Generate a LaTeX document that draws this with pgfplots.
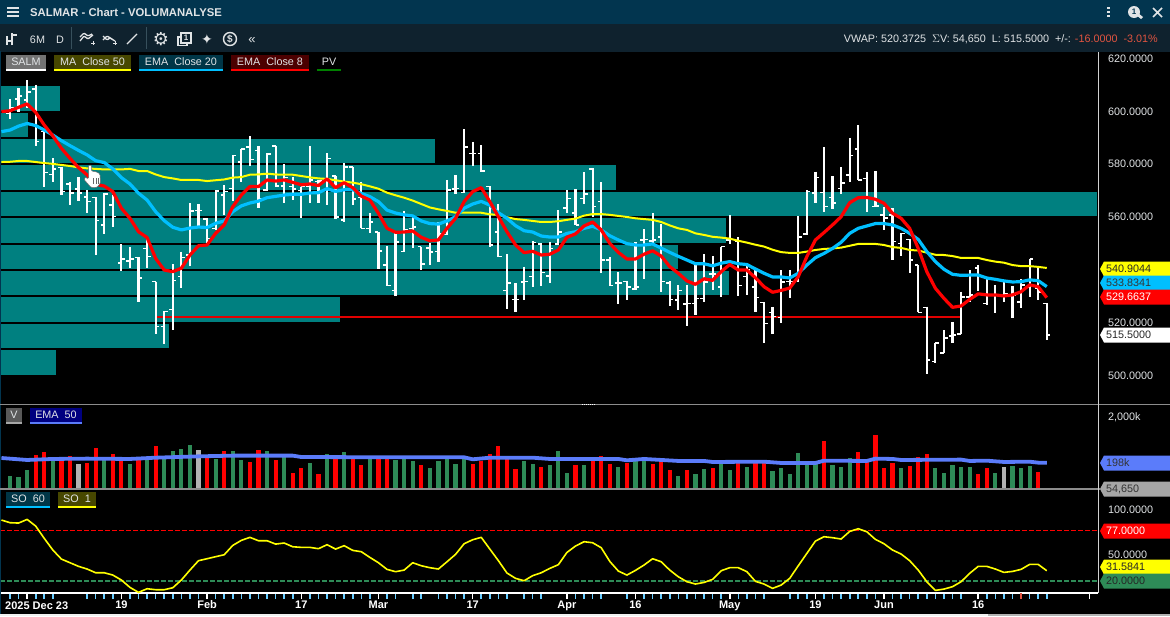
\documentclass[border=0pt]{standalone}
\usepackage{fontspec}
\setmainfont{Liberation Sans}
\newfontfamily\dejavu{DejaVu Sans}
\usepackage{pgfplots}
\usepackage{pgfplotstable}
\pgfplotsset{compat=1.18}
\definecolor{hdr}{RGB}{2,53,79}
\definecolor{tbar}{RGB}{15,34,46}
\definecolor{profile}{RGB}{0,128,128}
\definecolor{ema20}{RGB}{0,191,255}
\definecolor{ema8}{RGB}{255,0,0}
\definecolor{ma50}{RGB}{255,255,0}
\definecolor{volg}{RGB}{46,139,87}
\definecolor{volb}{RGB}{91,124,250}
\definecolor{tickc}{RGB}{102,204,255}
\definecolor{ltxt}{RGB}{225,228,230}
\definecolor{redtxt}{RGB}{226,84,64}
\definecolor{suprt}{RGB}{225,0,0}

\pgfplotstableread{
i h l o c
0 604.9 597.3 599.4 601.7
1 608.9 600.1 604.9 606.1
2 612.0 601.3 604.5 607.6
3 610.2 587.2 608.6 588.7
4 592.5 571.7 592.5 577.0
5 582.4 573.6 576.3 578.4
6 579.2 568.5 579.0 569.8
7 573.3 564.7 572.6 569.2
8 575.3 566.2 570.7 569.2
9 570.4 561.7 567.8 566.0
10 567.6 545.8 567.5 558.8
11 569.2 553.8 557.2 568.9
12 568.5 556.4 564.7 560.4
13 549.9 539.8 542.7 544.4
14 548.8 540.8 543.5 544.3
15 544.9 528.1 544.8 537.2
16 552.6 540.9 548.3 545.2
17 535.7 516.0 535.7 518.7
18 524.6 512.2 518.7 524.4
19 542.3 517.5 525.2 536.1
20 547.1 533.4 537.6 544.8
21 565.4 541.8 545.8 562.5
22 565.0 556.5 562.6 562.6
23 559.7 550.2 559.4 552.1
24 570.4 555.3 555.9 570.1
25 572.3 560.9 568.5 569.8
26 583.5 566.4 571.0 583.4
27 586.0 573.6 581.1 585.9
28 590.8 579.6 586.8 582.0
29 587.1 563.7 585.3 567.2
30 584.3 570.2 570.4 584.0
31 587.2 571.7 587.1 571.9
32 580.2 565.6 571.9 575.2
33 575.5 566.6 571.7 570.7
34 571.7 559.9 570.2 571.7
35 587.1 565.6 571.7 574.2
36 574.2 565.6 573.6 573.8
37 584.3 564.7 574.2 582.4
38 575.8 559.3 575.7 560.3
39 580.5 558.4 559.0 579.2
40 579.2 564.7 579.2 567.0
41 573.6 555.9 567.6 555.9
42 561.6 554.3 555.9 558.4
43 554.6 540.6 554.5 547.3
44 549.2 534.1 542.0 534.2
45 554.0 530.4 532.3 550.7
46 562.5 546.8 547.1 555.5
47 560.3 548.3 555.9 556.5
48 549.0 540.1 549.0 542.4
49 550.5 542.0 548.5 546.9
50 558.4 543.3 547.1 553.7
51 574.2 553.4 553.6 570.4
52 576.1 568.9 570.7 571.0
53 593.5 569.1 569.4 586.8
54 588.6 579.6 584.3 584.3
55 587.4 577.3 584.3 577.6
56 571.9 549.0 571.7 549.6
57 565.1 544.9 554.6 545.2
58 546.2 525.4 532.3 535.3
59 535.3 524.2 529.0 529.0
60 541.4 528.8 535.5 535.8
61 551.0 533.8 537.6 550.6
62 550.2 534.2 550.0 539.2
63 550.7 535.3 537.9 548.3
64 562.8 549.6 550.0 554.6
65 570.4 561.6 563.5 567.2
66 570.8 557.0 561.8 557.2
67 577.2 565.1 567.2 568.9
68 578.6 560.3 578.4 564.1
69 573.3 539.1 566.0 543.9
70 544.9 534.1 543.9 534.2
71 539.2 527.4 535.3 535.3
72 536.1 528.8 535.8 533.8
73 550.6 532.6 533.0 533.8
74 555.5 536.8 551.5 551.7
75 561.6 550.2 551.1 551.5
76 557.5 531.8 552.7 535.7
77 535.8 526.5 535.1 529.0
78 534.3 525.0 528.8 532.3
79 534.4 518.9 527.3 527.5
80 542.6 523.1 527.5 529.4
81 546.1 528.1 529.4 535.5
82 545.4 532.6 538.5 538.5
83 549.0 530.0 533.8 549.0
84 560.8 550.0 551.5 551.7
85 552.5 530.4 550.9 534.2
86 541.9 530.7 537.6 540.1
87 540.1 524.4 533.8 529.7
88 527.9 512.6 527.8 519.9
89 526.2 515.9 524.0 522.5
90 540.1 520.2 522.1 535.5
91 540.1 529.4 535.7 535.7
92 560.6 535.7 536.3 552.7
93 570.4 553.4 553.8 569.8
94 577.4 565.6 569.2 575.2
95 586.7 562.2 569.4 564.1
96 575.7 563.3 567.5 565.6
97 579.1 568.9 571.0 573.0
98 590.1 573.6 576.1 583.4
99 595.0 574.2 585.9 574.2
100 577.2 562.2 574.8 567.6
101 577.6 563.8 564.1 564.4
102 564.0 555.3 561.0 559.7
103 563.5 543.9 561.0 550.9
104 554.0 545.6 550.2 554.0
105 551.7 538.9 551.7 543.9
106 542.0 524.1 542.0 524.1
107 526.3 500.6 526.0 506.1
108 512.4 505.1 505.5 512.4
109 517.4 508.6 508.6 514.3
110 520.3 512.4 515.2 515.5
111 531.9 515.8 515.9 530.0
112 540.1 528.1 530.0 530.7
113 541.9 532.2 540.8 537.6
114 536.7 526.9 527.5 530.7
115 534.5 524.0 530.7 530.7
116 535.5 528.1 530.7 531.3
117 534.1 522.1 530.7 530.7
118 536.7 525.6 528.1 534.5
119 544.4 530.0 533.8 544.4
120 541.1 528.8 533.2 531.9
121 527.5 513.6 527.5 515.5
}\ohlc

\pgfplotstableread{
i ma e20 e8 so
-1 581.0 592.5 600.1 88.7
0 581.1 593.1 600.4 85.7
1 581.4 594.6 601.7 85.3
2 581.4 595.6 603.0 89.4
3 581.0 594.8 599.8 81.9
4 580.6 593.1 595.0 68.0
5 580.3 591.2 590.9 54.9
6 579.9 589.1 586.2 44.7
7 579.5 587.2 582.4 40.6
8 579.0 585.4 578.9 36.5
9 578.6 583.7 576.1 33.5
10 578.4 581.5 572.6 29.3
11 578.2 580.8 571.9 29.3
12 578.2 578.4 569.8 26.7
13 578.2 575.1 563.5 21.1
14 578.4 572.7 559.7 12.8
15 577.6 569.2 554.6 7.2
16 577.6 566.6 552.4 11.3
17 576.3 562.2 544.5 10.2
18 575.3 558.8 540.1 10.2
19 574.8 556.3 539.5 12.4
20 574.2 555.3 540.8 21.1
21 574.2 556.0 545.8 32.3
22 574.2 556.4 549.3 42.9
23 573.8 556.2 549.6 45.1
24 574.1 557.8 554.0 47.4
25 574.4 558.7 557.2 49.6
26 575.1 562.2 564.1 60.1
27 575.3 564.4 568.5 65.8
28 576.2 565.5 571.7 69.2
29 576.3 566.2 571.7 65.4
30 576.6 567.5 574.2 65.4
31 576.3 568.0 573.8 61.6
32 576.2 568.5 574.2 62.8
33 576.2 568.8 573.3 58.6
34 575.7 568.8 572.4 57.9
35 575.2 569.3 572.7 57.9
36 574.8 569.4 572.1 56.4
37 574.6 570.9 574.6 60.9
38 574.1 569.9 571.3 56.0
39 573.6 570.5 573.2 59.8
40 573.2 570.5 571.3 54.5
41 572.6 569.1 568.1 53.0
42 571.8 567.9 566.6 46.6
43 570.9 566.0 561.6 40.6
44 569.4 562.8 555.9 33.1
45 568.4 561.7 554.4 30.5
46 567.5 561.0 554.5 32.3
47 566.4 560.6 554.9 40.6
48 565.1 558.7 552.5 37.2
49 563.8 557.7 551.2 35.0
50 563.1 557.5 551.5 33.5
51 562.5 558.7 555.9 41.7
52 561.8 560.3 559.7 50.0
53 561.8 563.5 566.0 62.0
54 561.8 565.1 569.8 66.5
55 561.8 566.1 571.3 69.2
56 561.2 564.7 566.0 56.0
57 561.0 561.8 560.3 42.9
58 560.1 559.7 554.6 29.0
59 559.4 556.9 549.6 23.0
60 559.1 555.0 546.7 20.3
61 558.7 554.5 547.2 26.0
62 558.3 553.0 545.8 29.3
63 558.3 552.6 546.1 34.2
64 558.6 552.6 547.7 38.4
65 559.1 554.0 552.5 52.2
66 559.6 554.6 553.8 59.4
67 560.7 555.9 556.8 64.3
68 561.3 556.7 558.3 63.1
69 561.3 555.3 555.3 57.5
70 561.0 553.1 550.2 42.1
71 560.6 551.5 546.8 31.2
72 560.2 550.1 544.3 26.7
73 559.7 549.6 544.3 32.0
74 559.4 549.6 546.1 38.0
75 559.1 550.0 547.4 45.1
76 558.3 548.4 545.4 41.7
77 557.0 546.8 541.4 32.3
78 555.9 545.3 538.9 24.8
79 555.3 543.9 536.0 19.2
80 554.0 542.5 534.7 16.6
81 553.4 542.5 536.8 18.4
82 552.7 541.7 536.2 21.8
83 552.4 542.7 539.5 31.6
84 552.0 543.3 542.2 35.0
85 551.2 542.5 540.1 35.0
86 550.5 542.2 540.1 30.5
87 549.7 540.5 537.2 19.6
88 549.0 538.9 533.8 16.6
89 547.8 537.5 531.7 11.7
90 546.9 537.5 532.4 15.4
91 546.6 537.1 533.3 23.0
92 546.6 538.9 537.6 37.2
93 547.1 542.0 545.2 51.1
94 547.7 544.8 551.5 65.0
95 548.1 546.4 554.3 69.9
96 548.3 548.3 557.2 68.8
97 548.6 550.6 560.3 67.3
98 549.3 554.0 565.6 75.9
99 550.0 555.9 567.5 78.9
100 550.0 556.8 567.6 75.5
101 550.0 557.7 566.9 66.9
102 549.6 557.7 565.4 62.0
103 548.8 557.2 561.6 54.9
104 548.5 555.9 559.7 50.4
105 547.7 554.0 555.9 42.9
106 547.5 551.7 548.3 32.3
107 546.7 547.1 539.5 19.2
108 545.9 543.3 533.2 9.4
109 545.8 540.4 529.4 10.9
110 545.4 538.5 526.0 13.6
111 544.7 538.1 526.5 19.2
112 544.7 538.2 529.0 28.6
113 544.7 538.2 531.1 36.5
114 543.9 537.1 530.7 36.5
115 543.3 536.6 530.7 33.5
116 542.9 536.0 530.3 29.7
117 542.0 535.6 530.7 30.8
118 541.6 535.7 531.9 33.1
119 541.6 536.4 534.5 38.7
120 541.3 536.1 533.8 38.7
121 540.9044 533.8341 529.6637 31.5841
}\lines

\pgfplotstableread{
i v
3 293
4 341
6 227
7 278
9 195
10 418
12 308
13 247
15 227
17 463
23 260
25 359
28 205
29 377
31 227
33 117
34 151
36 111
38 247
40 247
41 176
43 247
44 247
48 176
54 185
55 219
56 308
57 463
58 235
59 143
62 159
66 176
68 227
69 278
70 185
72 195
75 185
76 216
77 136
79 136
82 151
85 191
87 191
88 191
95 597
99 341
100 205
101 810
102 151
103 195
105 167
106 264
107 308
113 111
114 151
120 123
121 54.65
}\volred
\pgfplotstableread{
i v
0 100
1 95
2 136
5 227
11 227
14 185
16 227
18 247
19 359
20 397
21 487
24 239
26 359
27 227
30 359
32 260
35 195
37 308
39 341
42 247
45 227
46 235
47 216
49 151
50 216
51 235
52 185
53 235
60 216
61 185
63 176
64 359
65 117
67 176
71 159
73 227
74 227
78 100
80 111
81 143
83 198
84 136
86 159
89 130
90 151
91 111
92 324
93 185
94 185
96 176
97 159
98 251
104 151
108 151
109 117
110 176
111 159
112 159
115 117
117 167
118 151
119 167
}\volgreen
\pgfplotstableread{
i v
8 185
22 377
116 159
}\volgrey
\pgfplotstableread{
i v
-1 251
2 227
5 239
9 243
14 239
17 255
22 273
26 283
33 283
34 264
45 260
53 260
54 235
56 255
61 255
63 239
71 239
72 223
74 239
78 216
81 216
82 205
88 208
90 195
94 195
95 219
100 216
101 243
103 239
104 227
111 231
112 216
114 219
116 205
119 208
120 198
121 198
}\volema

\pgfplotsset{panel/.style={scale only axis, width=1098pt, anchor=south west,
  xmin=-1.1671, xmax=126.98, clip=true}}
\newcommand{\fs}{\fontsize{10.8}{13}\selectfont}
\newcommand{\chip}[7]{%
  \fill[#5] (#1,#3) rectangle (#2,#4);
  \fill[#6] (#1,#4-2) rectangle (#2,#4);
  \node[anchor=center,inner sep=0pt,text=ltxt,font=\fs] at ({(#1+#2)/2},{(#3+#4)/2-1}) {#7};}
\newcommand{\tagp}[4]{%
  \fill[#2] (1100,#1) -- (1104,#1-7.5) -- (1170,#1-7.5) -- (1170,#1+7.5) -- (1104,#1+7.5) -- cycle;
  \node[anchor=west,inner sep=0pt,text=#3,font=\fs] at (1106,#1) {#4};}
\newcommand{\ylab}[2]{\node[anchor=west,inner sep=0pt,text=ltxt,font=\fs] at (1108,#1) {#2};}

\begin{document}
\begin{tikzpicture}
\path[use as bounding box] (0pt,0pt) rectangle (1170pt,-616pt);
\fill[black] (0pt,0pt) rectangle (1170pt,-616pt);

% PRICE PANEL
\begin{axis}[panel, at={(0pt,-404pt)}, height=352pt, ymin=489.40, ymax=622.65, hide axis]
\addplot[fill=profile,draw=none] coordinates {(-1.1671,600.3)(5.84,600.3)(5.84,609.8)(-1.1671,609.8)} --cycle;
\addplot[fill=profile,draw=none] coordinates {(-1.1671,590.5)(2.10,590.5)(2.10,599.6)(-1.1671,599.6)} --cycle;
\addplot[fill=profile,draw=none] coordinates {(-1.1671,580.6)(49.6,580.6)(49.6,589.7)(-1.1671,589.7)} --cycle;
\addplot[fill=profile,draw=none] coordinates {(-1.1671,570.4)(70.73,570.4)(70.73,579.9)(-1.1671,579.9)} --cycle;
\addplot[fill=profile,draw=none] coordinates {(-1.1671,560.6)(126.87,560.6)(126.87,569.7)(-1.1671,569.7)} --cycle;
\addplot[fill=profile,draw=none] coordinates {(-1.1671,550.4)(83.57,550.4)(83.57,559.8)(-1.1671,559.8)} --cycle;
\addplot[fill=profile,draw=none] coordinates {(-1.1671,540.5)(77.96,540.5)(77.96,549.6)(-1.1671,549.6)} --cycle;
\addplot[fill=profile,draw=none] coordinates {(-1.1671,530.7)(83.92,530.7)(83.92,539.8)(-1.1671,539.8)} --cycle;
\addplot[fill=profile,draw=none] coordinates {(-1.1671,520.4)(38.52,520.4)(38.52,530.0)(-1.1671,530.0)} --cycle;
\addplot[fill=profile,draw=none] coordinates {(-1.1671,510.6)(18.56,510.6)(18.56,519.7)(-1.1671,519.7)} --cycle;
\addplot[fill=profile,draw=none] coordinates {(-1.1671,500.4)(5.37,500.4)(5.37,509.9)(-1.1671,509.9)} --cycle;
% support line
\addplot[draw=suprt,fill=none,line width=1.8pt,mark=none] coordinates {(17.0,522.2)(60,522.2)(111.1,522.2)};
% OHLC bars
\addplot[draw=none,mark=none,error bars/.cd,y dir=minus,y explicit,error mark=none,
  error bar style={draw=white,line width=2.2pt}]
  table[x=i,y=h,y error minus expr=\thisrow{h}-\thisrow{l}] {\ohlc};
\addplot[draw=none,mark=none,error bars/.cd,x dir=minus,x fixed=0.42,error mark=none,
  error bar style={draw=white,line width=1.6pt}]
  table[x=i,y=o] {\ohlc};
\addplot[draw=none,mark=none,error bars/.cd,x dir=plus,x fixed=0.42,error mark=none,
  error bar style={draw=white,line width=1.6pt}]
  table[x=i,y=c] {\ohlc};
% averages
\addplot[color=ma50,line width=2pt,line join=round] table[x=i,y=ma] {\lines};
\addplot[color=ema20,line width=3.2pt,line join=round] table[x=i,y=e20] {\lines};
\addplot[color=ema8,line width=3.2pt,line join=round] table[x=i,y=e8] {\lines};
\end{axis}

% VOLUME PANEL
\begin{axis}[panel, at={(0pt,-489pt)}, height=84pt, ymode=log, ymin=51.7, ymax=3736, hide axis]
\addplot[ycomb,color=ema8,line width=4.2pt,mark=none] table[x=i,y=v] {\volred};
\addplot[ycomb,color=volg,line width=4.2pt,mark=none] table[x=i,y=v] {\volgreen};
\addplot[ycomb,color=black!30,line width=4.2pt,mark=none] table[x=i,y=v] {\volgrey};
\addplot[color=volb,line width=3.8pt,line join=round] table[x=i,y=v] {\volema};
\end{axis}

% OSCILLATOR PANEL
\begin{axis}[panel, at={(0pt,-593pt)}, height=103pt, ymin=6.48, ymax=122.54,
  axis x line*=bottom, axis y line=none, ytick=\empty,
  axis line style={white,line width=1.2pt},
  xtick={13,23,34,43,54,65,73,84,94,102,113,2,126},
  xticklabels={19,Feb,17,Mar,17,Apr,16,May,19,Jun,16,,},
  minor xtick={0,1,3,4,5,9,10,11,12,14,15,16,17,18,19,20,21,22,24,25,26,27,28,29,30,31,32,33,35,36,37,38,39,40,41,42,44,45,47,48,50,51,52,53,55,56,57,58,60,61,62,66,67,68,69,72,74,75,76,77,78,79,80,81,82,83,85,86,87,88,91,92,93,95,96,97,98,99,100,101,103,104,105,106,107,108,109,110,111,114,115,116,117,119,120,121},
  tick align=outside, major tick length=6pt, minor tick length=6pt,
  major tick style={white,line width=1.6pt}, minor tick style={tickc,line width=1.6pt},
  xticklabel style={font=\fontsize{11}{13}\selectfont\bfseries,text=white,inner sep=0pt,yshift=-1.5pt},
  extra x ticks={118}, extra x tick labels={},
  extra x tick style={major tick style={redtxt,line width=1.6pt}}]
\addplot[color=red,line width=1.4pt,dash pattern=on 4.5pt off 2.5pt] coordinates {(-1.1671,77)(126.98,77)};
\addplot[color=volg,line width=1.4pt,dash pattern=on 4.5pt off 2.5pt] coordinates {(-1.1671,20)(126.98,20)};
\addplot[color=ma50,line width=1.6pt,line join=round] table[x=i,y=so] {\lines};
\end{axis}

\begin{scope}[x=1pt,y=-1pt]
% header
\fill[hdr] (0,0) rectangle (1170,24);
\fill[tbar] (0,24) rectangle (1170,51.5);
\fill[hdr] (0,51) rectangle (1,614);
\fill[black!6] (0,614) rectangle (1170,616);
\fill[black!30] (988,614) rectangle (1170,616);
\foreach \yy in {8,12,16} \draw[ltxt,line width=1.7pt] (7,\yy) -- (19,\yy);
\node[anchor=west,inner sep=0pt,text=ltxt,font=\fontsize{11.3}{14}\selectfont\bfseries] at (30,12) {SALMAR - Chart - VOLUMANALYSE};
\foreach \yy in {8,12,16} \fill[ltxt] (1106.5,\yy-1.2) rectangle (1109.5,\yy+1.2);
\fill[ltxt] (1134,12) circle (6);
\fill[ltxt] (1136,15) -- (1141,19) -- (1143,17) -- (1138,13) -- cycle;
\node[inner sep=0pt,font=\fontsize{8}{8}\selectfont\bfseries,text=hdr] at (1134,12) {1};
\draw[ltxt,line width=1.5pt] (1153,8) -- (1162,17) (1162,8) -- (1153,17);
% toolbar
\draw[ltxt,line width=1.4pt] (7,45) -- (7,36) (7,41) -- (11,41) (12,45) -- (12,33) (12,35) -- (17,35);
\node[inner sep=0pt,text=ltxt,font=\fs] at (37.5,40) {6M};
\node[inner sep=0pt,text=ltxt,font=\fs] at (60,40) {D};
\draw[hdr!70!white!70!black,line width=1pt] (71.5,27) -- (71.5,49) (146.5,27) -- (146.5,49);
\draw[ltxt,line width=1.3pt,rounded corners=1pt] (80,41) -- (84,36) -- (88,39) -- (93,35) (80,37) -- (84,33) -- (88,36) -- (92,34);
\draw[ltxt,line width=1pt] (91,43) -- (95,43) (93,41) -- (93,45);
\draw[ltxt,line width=1.3pt,rounded corners=1pt] (103,36) -- (107,40) -- (110,38) -- (115,41) (103,40) -- (107,36) -- (112,39);
\draw[ltxt,line width=1pt] (113,43) -- (117,43) (115,41) -- (115,45);
\draw[ltxt,line width=1.2pt] (127,44) -- (137,34);
\node[inner sep=0pt,text=ltxt,font=\dejavu\fontsize{18}{18}\selectfont] at (161,39) {⚙};
\draw[ltxt,line width=1.2pt] (180,37) -- (178,37) -- (178,45.5) -- (187,45.5) -- (187,44);
\draw[ltxt,line width=1.4pt] (181,33) rectangle (191,43);
\node[inner sep=0pt,font=\fontsize{8}{8}\selectfont\bfseries,text=ltxt] at (186,38) {1};
\node[inner sep=0pt,text=ltxt,font=\dejavu\fontsize{14}{14}\selectfont] at (207,39.5) {✦};
\draw[ltxt,line width=1.4pt] (230,39) circle (6.5);
\node[inner sep=0pt,text=ltxt,fill=tbar,font=\fontsize{10}{10}\selectfont\bfseries] at (230,39) {\$};
\node[inner sep=0pt,text=ltxt,font=\fontsize{13}{13}\selectfont] at (252,41) {«};
\node[anchor=east,inner sep=0pt,font=\fs,text=ltxt] at (1158,39) {VWAP: 520.3725\ \ $\Sigma$V: 54,650\ \ L: 515.5000\ \ +/-: \textcolor{redtxt}{-16.0000\ \ -3.01\%}};
% chips
\chip{6}{46}{55}{71}{black!55}{white}{SALM}
\chip{54}{131}{55}{71}{ma50!28!black}{ma50}{MA\ \ Close 50}
\chip{139}{223}{55}{71}{ema20!28!black}{ema20}{EMA\ \ Close 20}
\chip{231}{309}{55}{71}{ema8!30!black}{ema8}{EMA\ \ Close 8}
\chip{317}{341}{55}{71}{black}{green!50!black}{PV}
\chip{6}{22}{408}{424}{black!65}{black!35}{V}
\chip{30}{82}{408}{424}{blue!50!black}{volb}{EMA\ \ 50}
\chip{6}{50}{492}{508}{ema20!28!black}{ema20}{SO\ \ 60}
\chip{58}{96}{492}{508}{ma50!28!black}{ma50}{SO\ \ 1}
% panel rules
\draw[black!45,line width=1.5pt] (0,404.7) -- (1170,404.7);
\draw[black!45,line width=1.5pt] (0,489) -- (1100,489);
\draw[white,line width=1pt,dash pattern=on 1pt off 1pt] (582,404.7) -- (595,404.7);
\draw[black!18,line width=1pt] (1098,52) -- (1098,593);
% date on the far left
\node[anchor=west,inner sep=0pt,text=white,font=\fontsize{11}{13}\selectfont\bfseries] at (5,606) {2025 Dec 23};
% right scale
\ylab{59}{620.0000}\ylab{112}{600.0000}\ylab{164}{580.0000}\ylab{217}{560.0000}
\ylab{323}{520.0000}\ylab{376}{500.0000}\ylab{417}{2,000k}\ylab{510}{100.0000}\ylab{555}{50.0000}
\tagp{269}{ma50}{black!85}{540.9044}
\tagp{283}{ema20}{black!80}{533.8341}
\tagp{297}{ema8}{white}{529.6637}
\tagp{335}{white}{black!85}{515.5000}
\tagp{463}{volb}{black!80}{198k}
\tagp{489}{black!35}{black!80}{54,650}
\tagp{531}{ema8}{white}{77.0000}
\tagp{567}{ma50}{black!85}{31.5841}
\tagp{581}{volg}{black!85}{20.0000}
% hand cursor
\filldraw[fill=white,draw=black!60,line width=.5pt,rounded corners=1.2pt]
  (88.5,165) -- (91.5,165) -- (91.5,171.5) -- (94,171) -- (96,172) -- (98,172.5) -- (100,174) -- (100.5,183) -- (97,187.5) -- (91,187.5) -- (84,179.5) -- (85,177) -- (88.5,179) -- cycle;
\draw[black!60,line width=.4pt] (93.5,178) -- (93.5,184) (96,178) -- (96,184) (98.5,178) -- (98.5,184);
\end{scope}
\end{tikzpicture}
\end{document}
